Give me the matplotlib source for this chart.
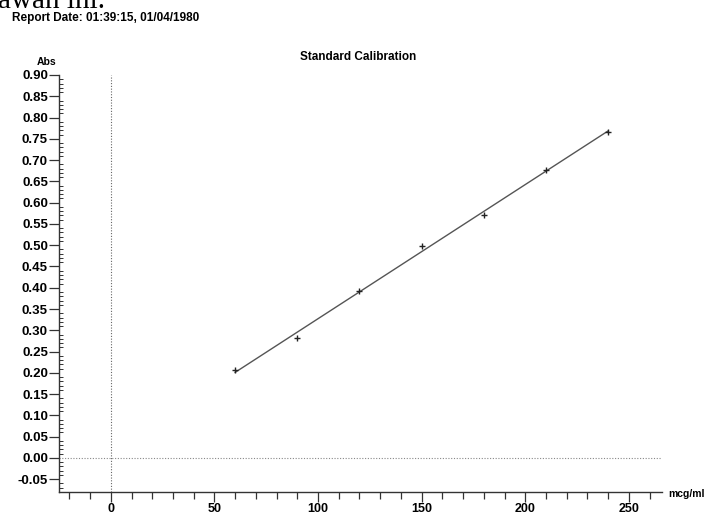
import numpy as np
import matplotlib
matplotlib.use("Agg")
import matplotlib.pyplot as plt
from matplotlib.ticker import MultipleLocator, FormatStrFormatter

conc = [60, 90, 120, 150, 180, 210, 240]
absorb = [0.207, 0.282, 0.393, 0.497, 0.571, 0.677, 0.767]
title = "Standard Calibration"
report = "Report Date: 01:39:15, 01/04/1980"

plt.rcParams['font.family'] = ['Liberation Sans', 'DejaVu Sans']

fig = plt.figure(figsize=(7.1, 5.15), dpi=100)
ax = fig.add_axes([59 / 710, 23 / 515, 603 / 710, 417 / 515])

# fitted calibration line
slope, icept = np.polyfit(conc, absorb, 1)
xs = np.array([min(conc), max(conc)])
ax.plot(xs, slope * xs + icept, color='#555555', lw=1.0)
ax.plot(conc, absorb, '+', color='#222222', ms=4, mew=1.0)

ax.axhline(0, color='#888888', lw=0.8, ls=(0, (1, 1.5)))
ax.axvline(0, color='#666666', lw=0.8, ls=(0, (1, 1.5)))

ax.set_xlim(-25, 266)
ax.set_ylim(-0.08, 0.90)

for s in ['top', 'right']:
    ax.spines[s].set_visible(False)
for s in ['left', 'bottom']:
    ax.spines[s].set_color('#333333')
    ax.spines[s].set_linewidth(1.0)

ax.xaxis.set_major_locator(MultipleLocator(50))
ax.xaxis.set_minor_locator(MultipleLocator(10))
ax.yaxis.set_major_locator(MultipleLocator(0.05))
ax.yaxis.set_minor_locator(MultipleLocator(0.01))
ax.yaxis.set_major_formatter(FormatStrFormatter('%.2f'))

ax.tick_params(axis='x', which='major', direction='out', length=7, width=0.9,
               color='#333333', labelsize=9, pad=1)
ax.tick_params(axis='x', which='minor', direction='out', length=5, width=0.9,
               color='#333333')
ax.tick_params(axis='y', which='major', direction='out', length=7, width=0.9,
               color='#333333', labelsize=9.5, pad=1)
ax.tick_params(axis='y', which='minor', direction='in', length=3, width=0.7,
               color='#333333')
for lab in ax.get_xticklabels() + ax.get_yticklabels():
    lab.set_fontweight('bold')

fig.text(358 / 710, 1 - 57 / 515, title, ha='center', va='center',
         fontsize=8.5, fontweight='bold')
fig.text(12 / 710, 1 - 18 / 515, report, ha='left', va='center',
         fontsize=8.5, fontweight='bold')
fig.text(47 / 710, 1 - 62 / 515, "Abs", ha='center', va='center',
         fontsize=7.5, fontweight='bold')
fig.text(668 / 710, 1 - 494 / 515, "mcg/ml", ha='left', va='center',
         fontsize=7.5, fontweight='bold')
# cut-off document text above the chart
fig.text(-2 / 710, 1 - 8 / 515, "awan ini.", ha='left', va='baseline',
         fontsize=21, family='Liberation Serif')

fig.savefig("out.png", dpi=100)
